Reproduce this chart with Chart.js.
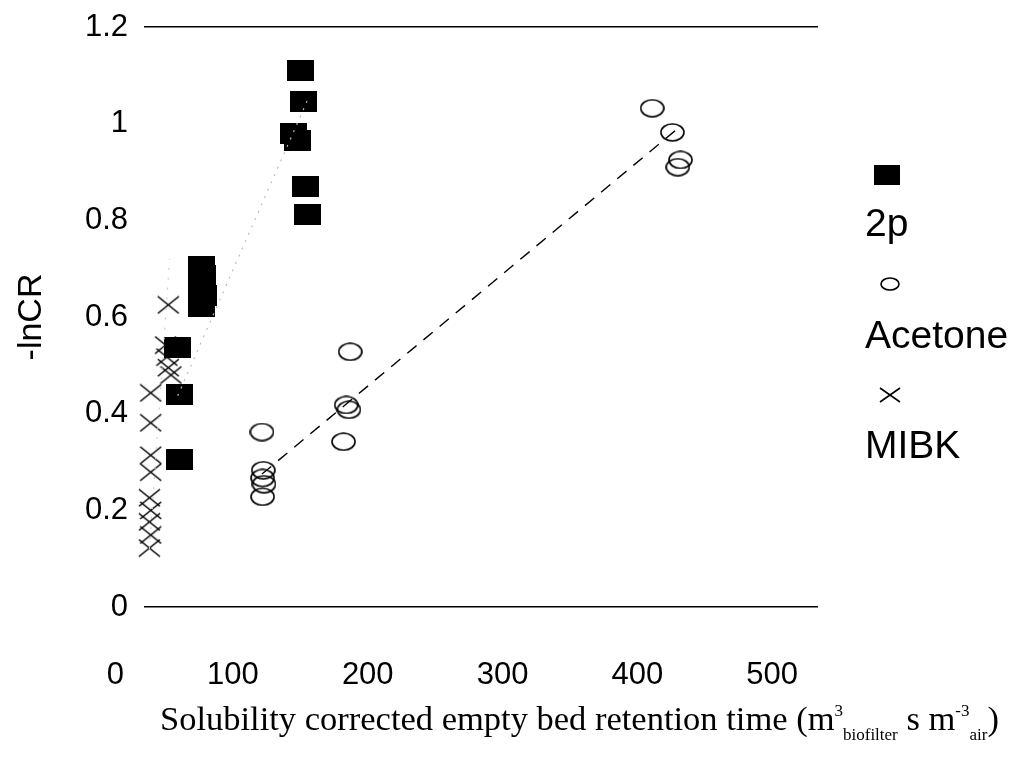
<!DOCTYPE html>
<html>
<head>
<meta charset="utf-8">
<script src="https://cdn.jsdelivr.net/npm/chart.js@4.4.1/dist/chart.umd.min.js"></script>
<style>
  html, body { margin: 0; padding: 0; background: #fff; }
  #wrap { position: relative; width: 1019px; height: 764px; }
  #legend div { position: absolute; }
  #legend .txt { font-family: 'Liberation Sans', Arial, sans-serif; font-size: 39px; line-height: 39px; color: #000; }
  #xtitle { position: absolute; left: 160px; top: 701px; white-space: nowrap;
    font-family: 'Liberation Serif', 'Times New Roman', serif; font-size: 34.5px; line-height: 34px; color: #000; }
  #xtitle sup, #xtitle sub { font-size: 17px; vertical-align: baseline; position: relative; }
  #xtitle sup { top: -14px; }
  #xtitle sub { top: 10px; }
</style>
</head>
<body>
<div id="wrap">
  <canvas id="my-chart" width="1019" height="764"></canvas>
  <div id="legend"></div>
  <div id="xtitle">Solubility corrected empty bed retention time (m<sup>3</sup><sub>biofilter</sub> s m<sup>-3</sup><sub>air</sub>)</div>
</div>
<script>
'use strict';

const seriesNames = ['2p', 'Acetone', 'MIBK'];

const twoPX = [116, 118, 111, 114, 120, 121, 43, 43.5, 43, 44, 42.5, 25, 26, 26];
const twoPY = [1.111, 1.045, 0.979, 0.966, 0.871, 0.813, 0.705, 0.685, 0.665, 0.645, 0.622, 0.537, 0.44, 0.306];

const acetoneX = [377, 392, 398, 396, 150, 152, 148, 153, 87.5, 88.5, 88, 89, 88];
const acetoneY = [1.032, 0.982, 0.925, 0.91, 0.418, 0.408, 0.342, 0.528, 0.362, 0.283, 0.267, 0.254, 0.228];

const mibkX = [18, 16, 17, 18, 20, 5, 5, 5, 5, 4, 5, 4, 5, 4];
const mibkY = [0.625, 0.542, 0.517, 0.495, 0.48, 0.443, 0.381, 0.314, 0.279, 0.226, 0.2, 0.176, 0.149, 0.122];

// trendlines (end points)
const acetoneTrendX = [87.5, 399];
const acetoneTrendY = [0.275, 0.997];
const twoPTrendX = [25, 121];
const twoPTrendY = [0.437, 1.047];
const mibkTrendX = [4, 19];
const mibkTrendY = [0.12, 0.72];

const xTicks = [0, 100, 200, 300, 400, 500];
const yTicks = [0, 0.2, 0.4, 0.6, 0.8, 1, 1.2];


function toPoints(xs, ys) {
  let pts = [];
  for (let i = 0; i < xs.length; i++) {
    pts.push({ x: xs[i], y: ys[i] });
  }
  return pts;
}

function makeMarker(kind, w, h) {
  let c = document.createElement('canvas');
  c.width = w;
  c.height = h;
  let g = c.getContext('2d');
  g.strokeStyle = '#000';
  g.fillStyle = '#000';
  g.lineWidth = 1.6;
  if (kind === 'square') {
    g.fillRect(0, 0, w, h);
  } else if (kind === 'ellipse') {
    g.beginPath();
    g.ellipse(w / 2, h / 2, w / 2 - 1, h / 2 - 1, 0, 0, Math.PI * 2);
    g.stroke();
  } else {
    g.beginPath();
    g.moveTo(1, 1);
    g.lineTo(w - 1, h - 1);
    g.moveTo(w - 1, 1);
    g.lineTo(1, h - 1);
    g.stroke();
  }
  return c;
}

const squareMark = makeMarker('square', 27, 21);
const ellipseMark = makeMarker('ellipse', 25, 19);
const crossMark = makeMarker('cross', 23, 19);

function trendSet(xs, ys, color, dash, width) {
  return {
    type: 'line',
    data: toPoints(xs, ys),
    borderColor: color,
    borderWidth: width,
    borderDash: dash,
    pointRadius: 0,
    fill: false,
    showLine: true
  };
}

function renderChart() {
  const ctx = document.getElementById('my-chart').getContext('2d');
  const tickFont = { family: "'Liberation Sans', Arial, sans-serif", size: 31 };

  let chartData = {
    type: 'scatter',
    data: {
      datasets: [
        trendSet(twoPTrendX, twoPTrendY, '#bdbdbd', [2, 6], 1.2),
        trendSet(mibkTrendX, mibkTrendY, '#cccccc', [2, 8], 1.2),
        trendSet(acetoneTrendX, acetoneTrendY, '#000', [12, 9], 1.4),
        {
          label: seriesNames[0],
          data: toPoints(twoPX, twoPY),
          pointStyle: squareMark
        },
        {
          label: seriesNames[1],
          data: toPoints(acetoneX, acetoneY),
          pointStyle: ellipseMark
        },
        {
          label: seriesNames[2],
          data: toPoints(mibkX, mibkY),
          pointStyle: crossMark
        }
      ]
    },
    options: {
      responsive: false,
      animation: false,
      clip: false,
      layout: { padding: { top: 27, right: 201, left: 0, bottom: 0 } },
      plugins: {
        legend: { display: false },
        tooltip: { enabled: false }
      },
      scales: {
        x: {
          type: 'linear',
          min: xTicks[0],
          max: xTicks[xTicks.length - 1],
          afterFit: function (scale) {
            scale.height = 157;
            scale.paddingLeft = 0;
            scale.paddingRight = 0;
          },
          afterBuildTicks: function (scale) { scale.ticks = xTicks.map(v => ({ value: v })); },
          grid: { display: false },
          border: { display: false },
          ticks: { align: 'end', labelOffset: -20, padding: 42, color: '#000', font: tickFont }
        },
        y: {
          min: yTicks[0],
          max: yTicks[yTicks.length - 1],
          afterFit: function (scale) {
            scale.width = 144;
            scale.paddingTop = 0;
            scale.paddingBottom = 0;
          },
          afterBuildTicks: function (scale) { scale.ticks = yTicks.map(v => ({ value: v })); },
          border: { display: false },
          grid: {
            drawTicks: false,
            lineWidth: 1.5,
            color: function (c) {
              let v = c.tick ? c.tick.value : -1;
              return (Math.abs(v) < 1e-6 || Math.abs(v - 1.2) < 1e-6) ? '#000' : 'rgba(0,0,0,0)';
            }
          },
          ticks: {
            padding: 16,
            color: '#000',
            font: tickFont,
            callback: function (value) { return String(value); }
          },
          title: {
            display: true,
            text: '-lnCR',
            color: '#000',
            padding: { top: 11, bottom: 0 },
            font: { family: "'Liberation Sans', Arial, sans-serif", size: 34 }
          }
        }
      }
    }
  };

  return new Chart(ctx, chartData);
}

function renderLegend() {
  const legend = document.getElementById('legend');
  const marks = [
    { mark: makeMarker('square', 26, 20), left: 874, top: 165, textTop: 203 },
    { mark: makeMarker('ellipse', 20, 14), left: 880, top: 277, textTop: 315 },
    { mark: makeMarker('cross', 22, 16), left: 879, top: 387, textTop: 425 }
  ];
  for (let i = 0; i < seriesNames.length; i++) {
    let m = document.createElement('div');
    m.style.left = marks[i].left + 'px';
    m.style.top = marks[i].top + 'px';
    m.appendChild(marks[i].mark);
    legend.appendChild(m);

    let t = document.createElement('div');
    t.className = 'txt';
    t.style.left = '865px';
    t.style.top = marks[i].textTop + 'px';
    t.textContent = seriesNames[i];
    legend.appendChild(t);
  }
}

renderChart();
renderLegend();
</script>
</body>
</html>
